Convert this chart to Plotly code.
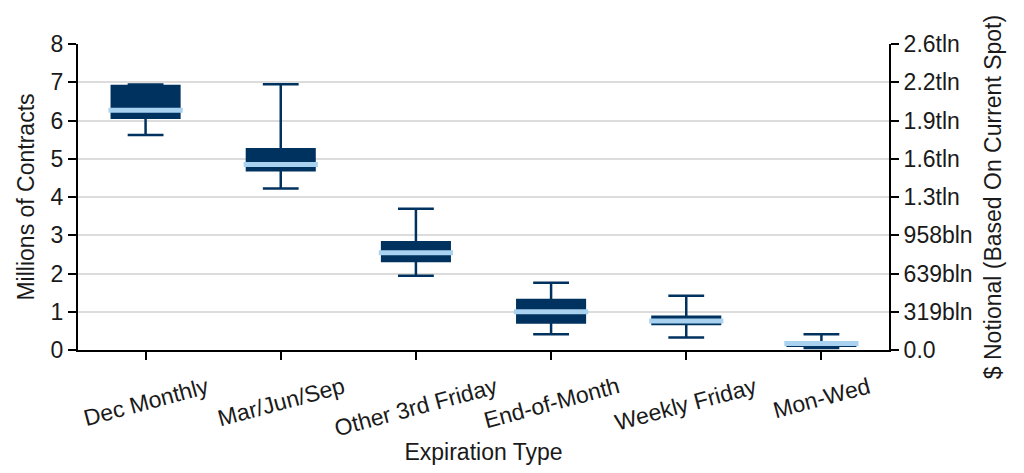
import plotly.graph_objects as go

categories = ["Dec Monthly", "Mar/Jun/Sep", "Other 3rd Friday", "End-of-Month", "Weekly Friday", "Mon-Wed"]
lower_whisker = [5.62, 4.22, 1.94, 0.41, 0.33, 0.05]
q1_vals = [6.07, 4.70, 2.33, 0.72, 0.68, 0.11]
median_vals = [6.27, 4.85, 2.54, 1.00, 0.76, 0.17]
q3_vals = [6.90, 5.25, 2.82, 1.31, 0.87, 0.20]
upper_whisker = [6.94, 6.95, 3.69, 1.76, 1.42, 0.41]

left_ticks = [0, 1, 2, 3, 4, 5, 6, 7, 8]
right_tick_labels = ["0.0", "319bln", "639bln", "958bln", "1.3tln", "1.6tln", "1.9tln", "2.2tln", "2.6tln"]

navy = "#00325f"
light = "#a9d2f1"
text_color = "#1a1a1a"
font_family = "Liberation Sans, Arial, sans-serif"
fs = 23

fig = go.Figure()
fig.add_trace(go.Box(
    x=categories, q1=q1_vals, median=q1_vals, q3=q3_vals,
    lowerfence=lower_whisker, upperfence=upper_whisker,
    fillcolor=navy, line=dict(color=navy, width=2.5),
    width=0.5, whiskerwidth=0.53, showlegend=False, hoverinfo="skip",
    boxpoints=False,
))
fig.add_trace(go.Scatter(
    x=categories, y=median_vals, mode="markers",
    marker=dict(symbol="line-ew", size=53, line=dict(color=light, width=5)),
    showlegend=False, hoverinfo="skip",
))
fig.add_trace(go.Scatter(
    x=categories, y=median_vals, yaxis="y2", mode="markers",
    marker=dict(opacity=0), showlegend=False, hoverinfo="skip",
))

# category labels, rotated and centred under each tick
for c in categories:
    fig.add_annotation(
        x=c, xref="x", y=-0.066, yref="paper", text=c, showarrow=False,
        textangle=-15, xanchor="center", yanchor="top",
        font=dict(size=fs, color=text_color, family=font_family),
    )

fig.update_layout(
    width=1008, height=457,
    margin=dict(l=70, r=127, t=36, b=115),
    plot_bgcolor="white", paper_bgcolor="white",
    font=dict(family=font_family, size=fs, color=text_color),
    xaxis=dict(
        title=dict(text="Expiration Type", font=dict(size=fs), standoff=88),
        categoryorder="array", categoryarray=categories,
        range=[-0.5, 5.5], showticklabels=False,
        showline=True, linecolor="black", linewidth=2,
        ticks="outside", ticklen=8, tickwidth=2, tickcolor="black",
        showgrid=False, zeroline=False, automargin=False,
    ),
    yaxis=dict(
        title=dict(text="Millions of Contracts", font=dict(size=fs), standoff=10),
        range=[0, 8], tickvals=left_ticks,
        showline=True, linecolor="black", linewidth=2,
        ticks="outside", ticklen=8, tickwidth=2, tickcolor="black",
        showgrid=True, gridcolor="#dcdcdc", gridwidth=2, zeroline=False,
        tickfont=dict(size=fs), automargin=False,
    ),
    yaxis2=dict(
        title=dict(text="$ Notional (Based On Current Spot)", font=dict(size=fs), standoff=13),
        overlaying="y", side="right", range=[0, 8],
        tickvals=left_ticks, ticktext=right_tick_labels,
        showline=True, linecolor="black", linewidth=2,
        ticks="outside", ticklen=8, tickwidth=2, tickcolor="black",
        showgrid=False, zeroline=False, tickfont=dict(size=fs), automargin=False,
    ),
)

fig.write_html("out.html")
